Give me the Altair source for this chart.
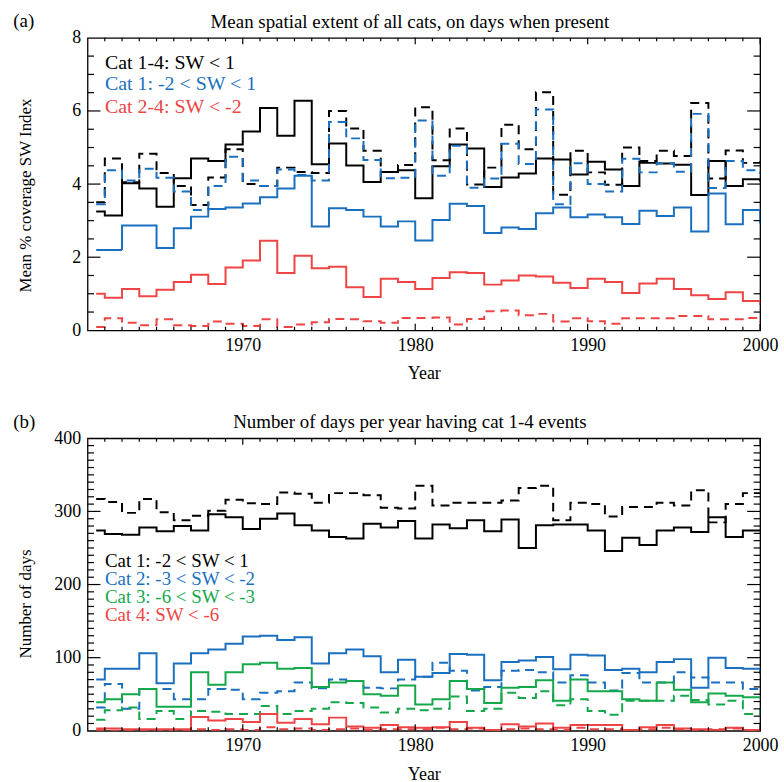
import altair as alt
import pandas as pd

YEARS = list(range(1961, 2001))

# ---------------- panel (a): mean % coverage ----------------
A_CAT14 = [3.25, 3.14, 4.02, 3.88, 3.38, 4.16, 4.70, 4.63, 5.08, 5.44, 6.08, 5.32, 6.28, 4.54, 5.11, 4.51, 4.06, 4.33, 4.38, 3.61,
           4.49, 5.08, 4.97, 3.92, 4.18, 4.29, 4.70, 4.67, 4.26, 4.61, 4.40, 3.95, 4.58, 4.56, 4.53, 3.70, 4.63, 3.95, 4.13, 4.10]
A_CAT14_D = [3.50, 4.70, 4.05, 4.83, 4.30, 3.95, 3.43, 4.18, 4.95, 4.00, 3.95, 4.45, 4.33, 4.30, 6.00, 5.52, 4.91, 4.33, 4.52, 6.10,
             4.65, 5.52, 3.99, 4.45, 5.62, 4.95, 6.51, 3.71, 4.91, 4.32, 3.98, 5.00, 4.63, 4.91, 4.77, 6.22, 4.15, 4.92, 4.58, 4.60]
A_CAT1 = [2.20, 2.20, 2.87, 2.87, 2.25, 2.79, 3.11, 3.32, 3.36, 3.47, 3.64, 3.88, 4.23, 2.84, 3.34, 3.29, 3.11, 2.84, 2.98, 2.46,
          3.02, 3.46, 3.40, 2.66, 2.81, 2.77, 3.20, 3.36, 3.09, 3.17, 3.09, 2.91, 3.27, 3.13, 3.36, 2.70, 3.74, 2.90, 3.29, 2.95]
A_CAT1_D = [3.45, 4.38, 4.10, 4.42, 4.17, 3.80, 3.29, 3.95, 4.75, 4.10, 3.95, 4.40, 4.25, 4.10, 5.70, 5.25, 4.66, 4.16, 4.17, 5.74,
            4.23, 5.05, 3.90, 4.15, 5.10, 4.55, 6.04, 3.45, 4.57, 4.00, 3.80, 4.69, 4.32, 4.57, 4.34, 5.92, 3.89, 4.63, 4.38, 4.30]
A_CAT24 = [1.00, 0.89, 1.13, 0.93, 1.11, 1.32, 1.52, 1.27, 1.72, 1.91, 2.45, 1.57, 2.04, 1.70, 1.74, 1.18, 0.91, 1.41, 1.32, 1.13,
           1.43, 1.59, 1.57, 1.25, 1.36, 1.50, 1.47, 1.30, 1.16, 1.41, 1.32, 1.02, 1.28, 1.41, 1.13, 0.96, 0.86, 1.04, 0.80, 0.72]
A_CAT24_D = [0.09, 0.33, 0.21, 0.14, 0.30, 0.14, 0.12, 0.24, 0.18, 0.12, 0.30, 0.09, 0.16, 0.22, 0.31, 0.30, 0.25, 0.21, 0.34, 0.34,
             0.35, 0.16, 0.31, 0.52, 0.54, 0.41, 0.45, 0.24, 0.33, 0.25, 0.18, 0.33, 0.33, 0.33, 0.39, 0.39, 0.30, 0.30, 0.34, 0.25]

# ---------------- panel (b): number of days ----------------
B_CAT1 = [274, 269, 268, 278, 273, 280, 274, 296, 292, 276, 290, 297, 281, 274, 265, 263, 283, 278, 287, 263,
          282, 277, 288, 273, 289, 250, 281, 282, 282, 274, 246, 264, 254, 274, 278, 272, 292, 265, 274, 274]
B_CAT1_D = [317, 313, 298, 317, 299, 288, 294, 301, 316, 311, 310, 326, 324, 312, 325, 325, 322, 305, 304, 335,
            308, 312, 312, 312, 315, 332, 335, 288, 312, 310, 293, 306, 306, 312, 308, 329, 285, 310, 325, 325]
B_CAT2 = [70, 85, 85, 106, 65, 92, 106, 111, 119, 129, 130, 124, 128, 92, 106, 111, 102, 80, 97, 74,
          79, 105, 104, 69, 94, 96, 101, 84, 104, 103, 83, 85, 80, 94, 98, 59, 100, 86, 85, 79]
B_CAT2_D = [32, 64, 30, 57, 57, 43, 43, 57, 56, 43, 52, 54, 66, 58, 70, 68, 59, 58, 70, 74,
            93, 82, 55, 60, 82, 83, 80, 66, 76, 66, 55, 79, 66, 66, 80, 73, 66, 66, 57, 56]
B_CAT3 = [39, 43, 50, 57, 33, 33, 80, 63, 80, 91, 93, 85, 86, 60, 66, 68, 50, 48, 62, 36,
          43, 68, 57, 38, 59, 60, 69, 41, 70, 54, 54, 43, 41, 66, 56, 39, 51, 48, 46, 46]
B_CAT3_D = [15, 28, 32, 16, 27, 16, 27, 26, 23, 23, 34, 23, 27, 30, 39, 38, 32, 25, 30, 28,
            30, 47, 27, 30, 52, 45, 54, 35, 43, 27, 22, 41, 41, 41, 48, 42, 36, 41, 23, 29]
B_CAT4 = [3, 3, 2, 2, 2, 2, 19, 14, 16, 12, 23, 11, 16, 9, 18, 6, 4, 8, 5, 4,
          5, 12, 4, 1, 9, 6, 10, 4, 8, 8, 8, 1, 5, 8, 3, 2, 1, 4, 1, 2]
B_CAT4_D = [1, 0, 1, 1, 0, 1, 2, 1, 2, 1, 5, 2, 3, 1, 2, 3, 1, 2, 2, 2,
            4, 2, 3, 1, 2, 3, 2, 1, 4, 2, 2, 1, 2, 4, 2, 1, 2, 3, 1, 2]

# ticks and labels
X_LABELS = [1970, 1980, 1990, 2000]
X_MINOR = [y for y in range(1962, 2000) if y % 10 != 0]
A_Y_LABELS = [0, 2, 4, 6, 8]
A_Y_MAJOR = [2, 4, 6]
A_Y_MINOR = [0.5, 1, 1.5, 2.5, 3, 3.5, 4.5, 5, 5.5, 6.5, 7, 7.5]
B_Y_LABELS = [0, 100, 200, 300, 400]
B_Y_MAJOR = [100, 200, 300]
B_Y_MINOR = [v for v in range(10, 400, 10) if v % 100 != 0]

A_TITLE = "Mean spatial extent of all cats, on days when present"
B_TITLE = "Number of days per year having cat 1-4 events"
A_YTITLE = "Mean % coverage SW Index"
B_YTITLE = "Number of days"
A_LEGEND = ["Cat 1-4: SW < 1", "Cat 1: -2 < SW < 1", "Cat 2-4: SW < -2"]
B_LEGEND = ["Cat 1: -2 < SW < 1", "Cat 2: -3 < SW < -2", "Cat 3: -6 < SW < -3", "Cat 4: SW < -6"]

BLACK, BLUE, GREEN, RED = "#000000", "#1a6fbf", "#14a84b", "#ef4444"
SOLID, DASH = [1, 0], [9, 6]
FONT = "Liberation Serif"
W, H = 676, 294


def panel(series, colors, dashes, ymax, ylabels, ymaj, ymin, ytitle, ytitle_y,
          title, tag, legend, legend_colors, legend_y, legend_size):
    names = [n for n, _ in series]
    rows = [{"year": yr, "v": val, "series": n}
            for n, vals in series for yr, val in zip(YEARS, vals)]
    df = pd.DataFrame(rows)
    xs = alt.Scale(domain=[1961, 2000], nice=False, zero=False)
    ys = alt.Scale(domain=[0, ymax], nice=False, zero=True)

    xaxis = alt.Axis(values=X_LABELS, format="d", title="Year", ticks=False, tickSize=0,
                     domain=False, grid=False, labelFlush=False, labelPadding=6,
                     labelFont=FONT, labelFontSize=18, labelColor="black",
                     titleFont=FONT, titleFontSize=18, titleFontWeight="normal",
                     titleColor="black", titlePadding=10.5)
    yaxis = alt.Axis(values=ylabels, title=ytitle, ticks=False, tickSize=0, domain=False,
                     grid=False, labelPadding=7, labelFont=FONT, labelFontSize=18,
                     labelColor="black", labelFlush=False,
                     titleFont=FONT, titleFontSize=17, titleFontWeight="normal",
                     titleColor="black", titleX=-62, titleY=ytitle_y,
                     titleBaseline="middle", titleAlign="center", titleAngle=270)

    lines = alt.Chart(df).transform_calculate(x="datum.year + 0.5").mark_line(
        interpolate="step", clip=True, strokeWidth=2
    ).encode(
        x=alt.X("x:Q", scale=xs, axis=xaxis),
        y=alt.Y("v:Q", scale=ys, axis=yaxis),
        color=alt.Color("series:N", scale=alt.Scale(domain=names, range=colors), legend=None),
        strokeDash=alt.StrokeDash("series:N", scale=alt.Scale(domain=names, range=dashes), legend=None),
    )

    layers = [lines]

    def xt(vals, L):
        d = pd.DataFrame({"x": vals})
        b = alt.Chart(d).mark_rule(color="black", strokeWidth=1.2)
        return [b.encode(x=alt.X("x:Q", scale=xs, axis=xaxis), y=alt.value(H), y2=alt.value(H - L)),
                b.encode(x=alt.X("x:Q", scale=xs, axis=xaxis), y=alt.value(0), y2=alt.value(L))]

    def yt(vals, L):
        d = pd.DataFrame({"v": vals})
        b = alt.Chart(d).mark_rule(color="black", strokeWidth=1.2)
        return [b.encode(y=alt.Y("v:Q", scale=ys, axis=yaxis), x=alt.value(0), x2=alt.value(L)),
                b.encode(y=alt.Y("v:Q", scale=ys, axis=yaxis), x=alt.value(W), x2=alt.value(W - L))]

    layers += xt(X_MINOR, 3.5) + xt(X_LABELS, 6.5) + yt(ymin, 6.5) + yt(ymaj, 13)

    def txt(s, x, y, size, color="black", align="left"):
        return alt.Chart(pd.DataFrame({"t": [s]})).mark_text(
            align=align, baseline="alphabetic", font=FONT, fontSize=size, color=color
        ).encode(x=alt.value(x), y=alt.value(y), text="t:N")

    layers.append(txt(title, W / 2 - 14, -10, 19, align="center"))
    layers.append(txt(tag, -74.7, -10.5, 19))
    for s, c, yy in zip(legend, legend_colors, legend_y):
        layers.append(txt(s, 17.5, yy, legend_size, c))

    return alt.layer(*layers).properties(width=W, height=H)


top = panel(
    [("a_cat14", A_CAT14), ("a_cat14_d", A_CAT14_D), ("a_cat1", A_CAT1),
     ("a_cat1_d", A_CAT1_D), ("a_cat24", A_CAT24), ("a_cat24_d", A_CAT24_D)],
    [BLACK, BLACK, BLUE, BLUE, RED, RED],
    [SOLID, DASH, SOLID, DASH, SOLID, DASH],
    8, A_Y_LABELS, A_Y_MAJOR, A_Y_MINOR, A_YTITLE, 158,
    A_TITLE, "(a)", A_LEGEND, [BLACK, BLUE, RED], [31, 52.5, 75.5], 20,
)

bottom = panel(
    [("b_cat1", B_CAT1), ("b_cat1_d", B_CAT1_D), ("b_cat2", B_CAT2), ("b_cat2_d", B_CAT2_D),
     ("b_cat3", B_CAT3), ("b_cat3_d", B_CAT3_D), ("b_cat4", B_CAT4), ("b_cat4_d", B_CAT4_D)],
    [BLACK, BLACK, BLUE, BLUE, GREEN, GREEN, RED, RED],
    [SOLID, DASH, SOLID, DASH, SOLID, DASH, SOLID, DASH],
    400, B_Y_LABELS, B_Y_MAJOR, B_Y_MINOR, B_YTITLE, 166,
    B_TITLE, "(b)", B_LEGEND, [BLACK, BLUE, GREEN, RED], [129.5, 147.5, 165.5, 183.5], 19,
)

chart = alt.vconcat(top, bottom, spacing=27.5).resolve_scale(
    color="independent", strokeDash="independent"
).properties(
    padding={"left": 12, "top": 9, "right": 5, "bottom": 5}
).configure_view(stroke="black", strokeWidth=1.3)

chart.save("out.html", embed_options={"renderer": "svg", "actions": False})
